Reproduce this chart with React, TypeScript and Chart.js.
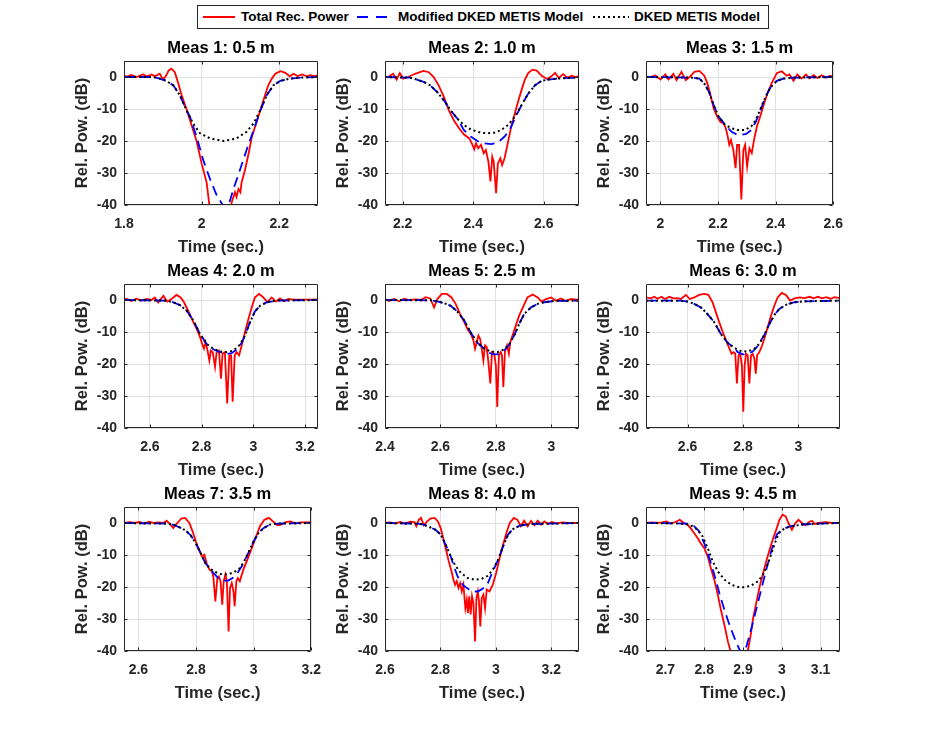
import { useEffect, useRef } from "react";
import { Chart, registerables } from "chart.js";

Chart.register(...registerables);

type Pt = [number, number];

const FONT = '"Liberation Sans", Arial, Helvetica, sans-serif';
const INK = "#262626";
const GRID = "#e1e1e1";

// ---- axes ----
const titles = [
  "Meas 1: 0.5 m", "Meas 2: 1.0 m", "Meas 3: 1.5 m",
  "Meas 4: 2.0 m", "Meas 5: 2.5 m", "Meas 6: 3.0 m",
  "Meas 7: 3.5 m", "Meas 8: 4.0 m", "Meas 9: 4.5 m",
];
const xMin = [1.8, 2.15, 1.95, 2.5, 2.4, 2.45, 2.55, 2.6, 2.65];
const xMax = [2.3, 2.7, 2.6, 3.25, 3.1, 3.15, 3.2, 3.3, 3.15];
const xTicks = [
  [1.8, 2, 2.2],
  [2.2, 2.4, 2.6],
  [2, 2.2, 2.4, 2.6],
  [2.6, 2.8, 3, 3.2],
  [2.4, 2.6, 2.8, 3],
  [2.6, 2.8, 3],
  [2.6, 2.8, 3, 3.2],
  [2.6, 2.8, 3, 3.2],
  [2.7, 2.8, 2.9, 3, 3.1],
];
const yTicks = [-40, -30, -20, -10, 0];
const yMin = -40;
const yMax = 5;

// ---- Meas 1 ----
const total1: Pt[] = [[1.8,0.3],[1.81,0.2],[1.819,0.6],[1.832,0],[1.84,0.4],[1.849,0.8],[1.859,0.2],[1.871,0.8],[1.878,0.3],[1.884,0.5],[1.892,1.0],[1.901,-0.8],[1.909,0.5],[1.915,2],[1.922,2.6],[1.931,1.5],[1.94,-2],[1.948,-5.5],[1.961,-10],[1.974,-15],[1.987,-20],[2.0,-27],[2.013,-33],[2.02,-40],[2.026,-46],[2.065,-46],[2.072,-42],[2.078,-39],[2.086,-36],[2.09,-37.5],[2.095,-35],[2.1,-36],[2.103,-33],[2.112,-29],[2.121,-24],[2.129,-19],[2.138,-15.5],[2.147,-12],[2.155,-9],[2.164,-5.5],[2.172,-2.5],[2.181,-0.5],[2.19,1.0],[2.203,1.8],[2.216,1.3],[2.227,0.2],[2.237,1.0],[2.247,0.3],[2.259,0.8],[2.272,0.2],[2.28,0.6],[2.29,0.3],[2.3,0.5]];
const mod1: Pt[] = [[1.8,0],[1.875,0],[1.892,-0.5],[1.909,-1.2],[1.927,-2.6],[1.944,-5.7],[1.961,-10.4],[1.97,-12.4],[1.987,-18.6],[2.004,-25.9],[2.022,-32],[2.039,-37],[2.056,-40.3],[2.062,-40.6],[2.069,-40.3],[2.082,-35],[2.099,-29],[2.116,-22.8],[2.134,-16.6],[2.151,-10.6],[2.168,-5.7],[2.185,-2.6],[2.203,-1.2],[2.228,-0.5],[2.254,-0.2],[2.3,0]];
const dked1: Pt[] = [[1.8,0],[1.875,0],[1.892,-0.5],[1.909,-1.2],[1.927,-2.6],[1.944,-5.7],[1.961,-10.4],[1.978,-14.5],[1.996,-17.6],[2.022,-19.2],[2.056,-20],[2.09,-19.2],[2.116,-17.1],[2.134,-14.5],[2.151,-10.4],[2.168,-5.7],[2.185,-2.6],[2.203,-1.2],[2.228,-0.5],[2.254,-0.2],[2.3,0]];

// ---- Meas 2 ----
const total2: Pt[] = [[2.15,0],[2.16,0.1],[2.173,1],[2.183,-0.8],[2.192,1.2],[2.202,-0.5],[2.216,0],[2.235,1],[2.259,1.9],[2.274,1.5],[2.288,0],[2.302,-2.6],[2.317,-6.2],[2.331,-10.4],[2.345,-13.5],[2.36,-16],[2.374,-18],[2.389,-19.2],[2.398,-21.2],[2.403,-22.6],[2.408,-20.7],[2.414,-22.3],[2.422,-21.2],[2.43,-23.8],[2.436,-22.8],[2.443,-26.4],[2.449,-32.6],[2.454,-24.9],[2.458,-26.4],[2.465,-36.3],[2.47,-27],[2.477,-25.4],[2.482,-27.5],[2.489,-25.4],[2.499,-20.2],[2.508,-15.5],[2.518,-11.4],[2.527,-7.8],[2.537,-4.1],[2.546,-1],[2.556,1.2],[2.568,2.3],[2.58,2.0],[2.595,0.3],[2.61,-0.6],[2.622,0.2],[2.632,1.3],[2.643,-0.3],[2.655,0.9],[2.667,-0.2],[2.68,0.4],[2.69,0],[2.7,0.3]];
const mod2: Pt[] = [[2.15,0],[2.221,-0.2],[2.24,-0.8],[2.259,-1.5],[2.278,-2.6],[2.298,-4.7],[2.317,-7.3],[2.336,-10.4],[2.355,-13],[2.374,-16.6],[2.393,-18.6],[2.412,-20],[2.432,-20.7],[2.451,-21],[2.47,-20.5],[2.489,-18.6],[2.503,-16.6],[2.518,-13],[2.537,-8.8],[2.556,-5.2],[2.575,-2.6],[2.594,-1.2],[2.613,-0.8],[2.65,-0.4],[2.7,-0.2]];
const dked2: Pt[] = [[2.15,0],[2.221,-0.2],[2.24,-0.8],[2.259,-1.5],[2.278,-2.6],[2.298,-4.7],[2.317,-7.3],[2.336,-10.4],[2.355,-13],[2.374,-15],[2.393,-16.4],[2.422,-17.4],[2.441,-17.6],[2.46,-17.4],[2.479,-16.6],[2.499,-15],[2.518,-12.4],[2.537,-8.8],[2.556,-5.2],[2.575,-2.6],[2.594,-1.2],[2.613,-0.8],[2.65,-0.4],[2.7,-0.2]];

// ---- Meas 3 ----
const total3: Pt[] = [[1.95,0],[1.97,0.1],[1.983,0.5],[2.0,-0.8],[2.017,0.8],[2.028,-0.8],[2.045,1],[2.056,-1],[2.073,1.6],[2.088,-1],[2.101,0],[2.118,1.6],[2.135,1.9],[2.152,0.5],[2.163,-2],[2.174,-5.7],[2.185,-9.8],[2.197,-12.4],[2.208,-14],[2.219,-14.5],[2.227,-16],[2.234,-18.7],[2.239,-21.2],[2.245,-19.7],[2.253,-22.8],[2.261,-28.5],[2.266,-21.2],[2.273,-21.2],[2.281,-38.3],[2.288,-22.8],[2.294,-21.2],[2.301,-28],[2.309,-22.3],[2.317,-23.8],[2.326,-19.2],[2.335,-15.5],[2.346,-12.4],[2.36,-8.3],[2.373,-4.7],[2.388,-1.6],[2.404,1.2],[2.421,1.8],[2.438,0.4],[2.448,0.8],[2.462,-1.2],[2.475,0.8],[2.49,-0.5],[2.505,0.8],[2.518,-0.4],[2.532,0.6],[2.545,-0.3],[2.56,0.5],[2.575,-0.2],[2.59,0.4],[2.6,0]];
const mod3: Pt[] = [[1.95,0],[2.112,-0.2],[2.135,-0.5],[2.152,-2],[2.169,-4.7],[2.185,-8.8],[2.202,-12.4],[2.215,-13.8],[2.23,-15.5],[2.247,-17.1],[2.264,-17.9],[2.281,-18.1],[2.298,-17.8],[2.315,-16.6],[2.331,-14],[2.348,-10.2],[2.365,-6.2],[2.382,-3.3],[2.404,-1.2],[2.427,-0.5],[2.46,-0.2],[2.6,0]];
const dked3: Pt[] = [[1.95,0],[2.112,-0.2],[2.135,-0.5],[2.152,-2],[2.169,-4.7],[2.185,-8.8],[2.202,-12.4],[2.225,-15],[2.247,-16],[2.27,-16.6],[2.292,-16.6],[2.315,-15.5],[2.331,-13.5],[2.348,-9.8],[2.365,-6.2],[2.382,-3.3],[2.404,-1.2],[2.427,-0.5],[2.46,-0.2],[2.6,0]];

// ---- Meas 4 ----
const total4: Pt[] = [[2.5,0.2],[2.51,0.3],[2.529,-0.3],[2.548,0.4],[2.568,-0.2],[2.587,0.3],[2.606,0],[2.619,0.8],[2.632,-0.8],[2.652,1.3],[2.667,-0.5],[2.684,0.3],[2.703,1.6],[2.719,0.8],[2.732,-0.7],[2.748,-3.3],[2.765,-6.4],[2.781,-9],[2.794,-11.6],[2.804,-14.2],[2.809,-15.2],[2.815,-13.2],[2.823,-15.8],[2.83,-18.9],[2.836,-15.8],[2.843,-16.3],[2.852,-20.9],[2.858,-16.3],[2.867,-15.8],[2.875,-24.6],[2.881,-16.8],[2.89,-16.3],[2.899,-32.3],[2.907,-17.3],[2.914,-17.3],[2.92,-31.8],[2.928,-17.3],[2.935,-16.3],[2.945,-17.3],[2.955,-14.2],[2.968,-10],[2.981,-5.9],[2.994,-2.3],[3.006,0.8],[3.022,1.9],[3.039,0.8],[3.054,-0.7],[3.071,0.8],[3.088,-0.5],[3.103,0.5],[3.119,-0.4],[3.135,0.3],[3.155,0.1],[3.181,0.1],[3.219,0.1],[3.25,0.2]];
const mod4: Pt[] = [[2.5,0],[2.665,-0.2],[2.69,-0.7],[2.716,-1.6],[2.742,-3.3],[2.768,-6.4],[2.794,-10.6],[2.819,-13.7],[2.845,-15.4],[2.871,-16.3],[2.897,-16.9],[2.916,-16.6],[2.935,-15.5],[2.955,-13.4],[2.968,-11.1],[2.987,-6.9],[3.006,-3.6],[3.026,-1.8],[3.052,-0.7],[3.09,-0.2],[3.25,0]];
const dked4: Pt[] = [[2.5,0],[2.665,-0.2],[2.69,-0.7],[2.716,-1.6],[2.742,-3.3],[2.768,-6.4],[2.794,-10.6],[2.819,-13.7],[2.845,-15.2],[2.871,-16.1],[2.897,-16.3],[2.923,-15.8],[2.948,-14],[2.968,-11.1],[2.987,-6.9],[3.006,-3.6],[3.026,-1.8],[3.052,-0.7],[3.09,-0.2],[3.25,0]];

// ---- Meas 5 ----
const total5: Pt[] = [[2.4,0.3],[2.414,-0.3],[2.433,0.3],[2.451,-0.4],[2.469,0.4],[2.487,0],[2.511,0.2],[2.529,0],[2.547,0.9],[2.563,0.5],[2.577,-2.3],[2.589,0.3],[2.605,1.9],[2.623,1.9],[2.64,0.8],[2.655,-1.2],[2.671,-4.4],[2.686,-6.9],[2.7,-9.5],[2.71,-10.6],[2.719,-12.6],[2.725,-15.2],[2.731,-13.2],[2.737,-11.1],[2.743,-12.1],[2.749,-15.2],[2.755,-18.9],[2.761,-14.2],[2.767,-14.7],[2.773,-19.4],[2.78,-26.1],[2.786,-16.3],[2.794,-16.8],[2.8,-20.4],[2.805,-33.4],[2.811,-17.3],[2.818,-16.3],[2.822,-17.3],[2.827,-27.2],[2.833,-15.8],[2.84,-14.2],[2.847,-16.8],[2.852,-13.2],[2.86,-11.1],[2.872,-8],[2.884,-4.9],[2.9,-1.8],[2.914,0.8],[2.933,1.7],[2.951,0.8],[2.965,-0.5],[2.981,0.3],[2.999,0.8],[3.017,-0.2],[3.035,0.5],[3.053,-0.3],[3.071,0.3],[3.089,0.1],[3.1,0.2]];
const mod5: Pt[] = [[2.4,0],[2.565,-0.1],[2.589,-0.4],[2.613,-1],[2.637,-1.8],[2.661,-3.6],[2.686,-6.4],[2.71,-10.3],[2.734,-13.4],[2.758,-15.2],[2.77,-16.3],[2.788,-16.9],[2.806,-17],[2.824,-16.3],[2.842,-14.7],[2.866,-11.1],[2.884,-7.5],[2.902,-4.4],[2.927,-2.3],[2.951,-1.2],[2.975,-0.7],[3.011,-0.3],[3.1,-0.2]];
const dked5: Pt[] = [[2.4,0],[2.565,-0.1],[2.589,-0.4],[2.613,-1],[2.637,-1.8],[2.661,-3.6],[2.686,-6.4],[2.71,-10.3],[2.734,-13.4],[2.758,-15.2],[2.782,-16.1],[2.806,-16.3],[2.83,-15.4],[2.848,-14],[2.866,-11.1],[2.884,-7.5],[2.902,-4.4],[2.927,-2.3],[2.951,-1.2],[2.975,-0.7],[3.011,-0.3],[3.1,-0.2]];

// ---- Meas 6 ----
const total6: Pt[] = [[2.45,0.8],[2.467,0.5],[2.48,1.0],[2.492,0.4],[2.506,1.0],[2.518,0.3],[2.534,1.0],[2.549,0.5],[2.564,0.6],[2.576,0.3],[2.594,1.6],[2.608,0.3],[2.624,0.8],[2.642,1.6],[2.66,1.9],[2.675,1.6],[2.69,-0.7],[2.702,-3.8],[2.714,-6.9],[2.727,-10],[2.739,-12.6],[2.751,-15.2],[2.759,-16.8],[2.766,-16.3],[2.772,-16.8],[2.778,-26.1],[2.784,-17.3],[2.79,-16.8],[2.796,-20.4],[2.801,-34.9],[2.806,-20.4],[2.811,-16.8],[2.817,-17.3],[2.823,-26.1],[2.829,-17.3],[2.835,-16.8],[2.841,-18.3],[2.846,-23],[2.851,-17.3],[2.859,-16.3],[2.867,-14.7],[2.877,-12.1],[2.889,-8.5],[2.901,-4.9],[2.913,-1.8],[2.925,0.8],[2.94,2.2],[2.955,1.6],[2.97,-0.2],[2.986,0.5],[3.004,0.8],[3.022,0.6],[3.04,1.0],[3.055,0.5],[3.07,1.0],[3.086,0.5],[3.1,0.9],[3.116,0.4],[3.13,0.9],[3.15,0.6]];
const mod6: Pt[] = [[2.45,-0.2],[2.576,-0.2],[2.6,-0.5],[2.624,-1.2],[2.648,-2.3],[2.672,-4.4],[2.696,-6.9],[2.72,-10.6],[2.745,-13.4],[2.769,-15],[2.781,-16.3],[2.799,-17],[2.817,-16.9],[2.835,-16.1],[2.853,-14.4],[2.877,-10.9],[2.895,-7.5],[2.913,-4.7],[2.931,-2.8],[2.955,-1.5],[2.986,-0.7],[3.022,-0.4],[3.15,-0.2]];
const dked6: Pt[] = [[2.45,-0.2],[2.576,-0.2],[2.6,-0.5],[2.624,-1.2],[2.648,-2.3],[2.672,-4.4],[2.696,-6.9],[2.72,-10.6],[2.745,-13.4],[2.769,-15],[2.794,-16],[2.817,-16.1],[2.841,-15.2],[2.859,-13.7],[2.877,-10.9],[2.895,-7.5],[2.913,-4.7],[2.931,-2.8],[2.955,-1.5],[2.986,-0.7],[3.022,-0.4],[3.15,-0.2]];

// ---- Meas 7 ----
const total7: Pt[] = [[2.55,0],[2.57,0.3],[2.587,0],[2.603,0.3],[2.62,-0.2],[2.637,0.4],[2.654,0],[2.67,0.2],[2.687,0],[2.698,0.7],[2.709,-0.3],[2.721,-1.6],[2.735,0],[2.749,1.4],[2.762,1.6],[2.777,0],[2.788,-2.6],[2.799,-5.7],[2.81,-8.3],[2.821,-10.4],[2.829,-9.9],[2.838,-13],[2.847,-14.6],[2.855,-15.1],[2.86,-16.7],[2.867,-24.5],[2.874,-17.2],[2.879,-16.7],[2.885,-18.2],[2.891,-25.5],[2.896,-18.2],[2.902,-16.1],[2.907,-18.2],[2.913,-33.9],[2.918,-20.3],[2.924,-18.8],[2.93,-21.4],[2.934,-26],[2.94,-18.2],[2.945,-17.2],[2.952,-18.2],[2.959,-16.1],[2.966,-14.1],[2.978,-11.5],[2.989,-8.9],[3.0,-6.3],[3.011,-3.6],[3.022,-1],[3.037,1],[3.053,1.6],[3.067,0.5],[3.082,-0.7],[3.095,-0.5],[3.112,0.3],[3.128,0.5],[3.145,-0.2],[3.162,0.2],[3.18,0.2],[3.2,0.3]];
const mod7: Pt[] = [[2.55,0],[2.704,-0.2],[2.726,-0.7],[2.749,-1.6],[2.765,-2.4],[2.782,-3.9],[2.799,-6.3],[2.816,-9.4],[2.832,-12.5],[2.849,-14.3],[2.86,-15.6],[2.877,-17.2],[2.894,-18],[2.911,-18],[2.927,-17.2],[2.944,-15.6],[2.961,-13.2],[2.983,-9.1],[3.0,-5.7],[3.017,-3.1],[3.034,-1.6],[3.056,-0.5],[3.084,-0.2],[3.2,0]];
const dked7: Pt[] = [[2.55,0],[2.704,-0.2],[2.726,-0.7],[2.749,-1.6],[2.765,-2.4],[2.782,-3.9],[2.799,-6.3],[2.816,-9.4],[2.832,-12.5],[2.849,-14.3],[2.866,-15.3],[2.883,-15.9],[2.899,-16.1],[2.916,-15.9],[2.933,-15.3],[2.95,-14.3],[2.966,-12.2],[2.983,-9.1],[3.0,-5.7],[3.017,-3.1],[3.034,-1.6],[3.056,-0.5],[3.084,-0.2],[3.2,0]];

// ---- Meas 8 ----
const total8: Pt[] = [[2.6,0],[2.618,0.2],[2.636,-0.2],[2.655,0.3],[2.673,-0.2],[2.691,0.4],[2.706,0.3],[2.713,-1],[2.722,1],[2.73,1.6],[2.74,-0.7],[2.752,0.5],[2.764,1.4],[2.779,1.6],[2.791,0.5],[2.801,-1.6],[2.81,-4.7],[2.82,-8.3],[2.83,-12],[2.84,-15.1],[2.847,-17.7],[2.853,-19.3],[2.859,-18.2],[2.865,-20.3],[2.871,-18.8],[2.877,-21.4],[2.883,-19.3],[2.89,-26.6],[2.895,-24],[2.899,-28.1],[2.904,-22.9],[2.909,-28.6],[2.914,-22.9],[2.919,-25],[2.925,-37],[2.93,-23.4],[2.935,-21.4],[2.939,-24.5],[2.944,-32.3],[2.949,-23.4],[2.955,-22.4],[2.961,-26.6],[2.967,-20.8],[2.977,-21.4],[2.989,-19.3],[3.001,-15.6],[3.014,-10.9],[3.026,-6.8],[3.038,-3.1],[3.05,0],[3.065,1.6],[3.078,1],[3.09,-1],[3.102,0.7],[3.115,-1],[3.127,0.7],[3.139,-0.7],[3.151,0.7],[3.163,-0.5],[3.175,0.5],[3.188,-0.3],[3.202,0.3],[3.22,-0.2],[3.239,0.2],[3.263,0],[3.3,0]];
const mod8: Pt[] = [[2.6,0],[2.716,-0.2],[2.74,-0.5],[2.764,-1.4],[2.782,-2.1],[2.801,-3.6],[2.819,-6.8],[2.837,-10.4],[2.848,-13.4],[2.862,-16.7],[2.88,-19.3],[2.898,-20.5],[2.916,-21.4],[2.935,-21.4],[2.953,-20.5],[2.971,-18.8],[2.989,-15.1],[3.008,-11.5],[3.026,-7.3],[3.044,-3.6],[3.062,-1.9],[3.087,-0.8],[3.129,-0.3],[3.3,0]];
const dked8: Pt[] = [[2.6,0],[2.716,-0.2],[2.74,-0.5],[2.764,-1.4],[2.782,-2.1],[2.801,-3.6],[2.819,-6.8],[2.837,-10.4],[2.855,-13.5],[2.874,-15.6],[2.898,-17.2],[2.922,-17.7],[2.947,-17.5],[2.971,-16.5],[2.989,-14.6],[3.008,-11.5],[3.026,-7.3],[3.044,-3.6],[3.062,-1.9],[3.087,-0.8],[3.129,-0.3],[3.3,0]];

// ---- Meas 9 ----
const total9: Pt[] = [[2.65,0],[2.665,0.2],[2.678,0],[2.691,0.2],[2.703,0.5],[2.713,-0.2],[2.726,0.3],[2.737,1],[2.748,0],[2.757,-0.5],[2.765,-1.6],[2.774,-3.1],[2.783,-4.7],[2.791,-6.3],[2.8,-7.8],[2.809,-10.4],[2.817,-14.1],[2.826,-17.7],[2.835,-22.4],[2.843,-27.1],[2.852,-31.8],[2.861,-37],[2.868,-40.1],[2.874,-46],[2.909,-46],[2.913,-39.6],[2.92,-34.9],[2.926,-29.7],[2.935,-24.5],[2.943,-19.8],[2.952,-15.6],[2.961,-11.5],[2.97,-7.8],[2.978,-4.7],[2.987,-1.6],[2.994,1],[3.002,2.6],[3.01,2.1],[3.017,0],[3.026,-2.1],[3.035,0],[3.043,1],[3.052,0],[3.061,-0.7],[3.07,0.3],[3.078,0.7],[3.085,-0.3],[3.096,0],[3.113,0.3],[3.13,0],[3.15,0]];
const mod9: Pt[] = [[2.65,0],[2.722,-0.1],[2.757,-0.2],[2.774,-1],[2.787,-2.6],[2.8,-6.3],[2.813,-10.9],[2.826,-16.1],[2.839,-21.9],[2.852,-27.1],[2.865,-31.8],[2.878,-35.9],[2.891,-39.6],[2.9,-40.6],[2.909,-38.5],[2.922,-32.8],[2.935,-26.6],[2.948,-20.3],[2.961,-14.1],[2.974,-8.3],[2.987,-3.6],[3.0,-2.1],[3.017,-1.2],[3.043,-0.5],[3.096,-0.2],[3.15,0]];
const dked9: Pt[] = [[2.65,0],[2.722,-0.1],[2.739,-0.2],[2.757,-0.5],[2.77,-1],[2.783,-2.1],[2.796,-4.2],[2.809,-7.8],[2.822,-12],[2.835,-15.1],[2.852,-17.7],[2.87,-19.3],[2.887,-20],[2.904,-20.1],[2.922,-19.5],[2.939,-18.2],[2.952,-16.1],[2.965,-12.5],[2.978,-7.8],[2.987,-4.7],[2.996,-2.6],[3.009,-1.6],[3.026,-1],[3.052,-0.5],[3.096,-0.2],[3.15,0]];

const totals = [total1, total2, total3, total4, total5, total6, total7, total8, total9];
const modified = [mod1, mod2, mod3, mod4, mod5, mod6, mod7, mod8, mod9];
const dkeds = [dked1, dked2, dked3, dked4, dked5, dked6, dked7, dked8, dked9];

// ---- layout (page pixels) ----
const colLeft = [124, 385, 646];
const rowTop = [61, 284, 507];
const BOX_W = 194;
const BOX_H = 144;
const Y_W = 55;
const X_H = 56;
const TOP_H = 28;
const RIGHT_PAD = 14;

const fmt = (v: number | string) => String(Math.round(Number(v) * 100) / 100);
const toXY = (pts: Pt[]) => pts.map(([x, y]) => ({ x, y }));

// MATLAB-like box with inward tick marks
const boxPlugin = {
  id: "matlabBox",
  afterDatasetsDraw(chart: Chart) {
    const { ctx, chartArea: a } = chart;
    const xs = chart.scales.x;
    const ys = chart.scales.y;
    const l = Math.round(a.left) + 0.5;
    const r = Math.round(a.right) - 0.5;
    const t = Math.round(a.top) + 0.5;
    const b = Math.round(a.bottom) - 0.5;
    ctx.save();
    ctx.strokeStyle = INK;
    ctx.lineWidth = 1;
    ctx.beginPath();
    ctx.rect(l, t, r - l, b - t);
    for (const tk of xs.ticks) {
      const px = Math.round(xs.getPixelForValue(tk.value)) + 0.5;
      ctx.moveTo(px, b);
      ctx.lineTo(px, b - 3);
      ctx.moveTo(px, t);
      ctx.lineTo(px, t + 3);
    }
    for (const tk of ys.ticks) {
      const py = Math.round(ys.getPixelForValue(tk.value)) + 0.5;
      ctx.moveTo(l, py);
      ctx.lineTo(l + 3, py);
      ctx.moveTo(r, py);
      ctx.lineTo(r - 3, py);
    }
    ctx.stroke();
    ctx.restore();
  },
};

function Panel({ i }: { i: number }) {
  const canvasRef = useRef<HTMLCanvasElement>(null);

  useEffect(() => {
    if (!canvasRef.current) return;
    const tickFont = { family: FONT, size: 14, weight: "bold" as const };
    const labelFont = { family: FONT, size: 16.5, weight: "bold" as const };
    const chart = new Chart(canvasRef.current, {
      type: "line",
      data: {
        datasets: [
          {
            label: "DKED METIS Model",
            data: toXY(dkeds[i]),
            borderColor: "#000000",
            borderWidth: 2,
            borderDash: [2, 3],
            pointRadius: 0,
          },
          {
            label: "Modified DKED METIS Model",
            data: toXY(modified[i]),
            borderColor: "#0000ff",
            borderWidth: 1.8,
            borderDash: [10, 6],
            pointRadius: 0,
          },
          {
            label: "Total Rec. Power",
            data: toXY(totals[i]),
            borderColor: "#ff0000",
            borderWidth: 1.8,
            pointRadius: 0,
          },
        ],
      },
      options: {
        animation: false,
        responsive: true,
        maintainAspectRatio: false,
        events: [],
        layout: { padding: { left: 0, right: RIGHT_PAD, top: 0, bottom: 0 } },
        plugins: {
          legend: { display: false },
          tooltip: { enabled: false },
          title: {
            display: true,
            text: titles[i],
            fullSize: false,
            color: "#000000",
            font: labelFont,
            padding: { top: 5.5, bottom: 2.7 },
          },
        },
        scales: {
          x: {
            type: "linear",
            min: xMin[i],
            max: xMax[i],
            afterBuildTicks: (s: any) => {
              s.ticks = xTicks[i].map((v) => ({ value: v }));
            },
            afterFit: (s: any) => {
              s.height = X_H;
            },
            grid: { color: GRID, drawTicks: false },
            border: { display: false },
            ticks: {
              autoSkip: false,
              maxRotation: 0,
              padding: 11,
              color: INK,
              font: tickFont,
              callback: (v: number | string) => fmt(v),
            },
            title: {
              display: true,
              text: "Time (sec.)",
              color: INK,
              font: labelFont,
              padding: { top: 0, bottom: 4 },
            },
          },
          y: {
            type: "linear",
            min: yMin,
            max: yMax,
            afterBuildTicks: (s: any) => {
              s.ticks = yTicks.map((v) => ({ value: v }));
            },
            afterFit: (s: any) => {
              s.width = Y_W;
            },
            grid: { color: GRID, drawTicks: false },
            border: { display: false },
            ticks: {
              autoSkip: false,
              padding: 7,
              color: INK,
              font: tickFont,
              callback: (v: number | string) => fmt(v),
            },
            title: {
              display: true,
              text: "Rel. Pow. (dB)",
              color: INK,
              font: labelFont,
              padding: { top: 4, bottom: 0 },
            },
          },
        },
      },
      plugins: [boxPlugin],
    });
    return () => chart.destroy();
  }, [i]);

  const col = i % 3;
  const row = Math.floor(i / 3);
  return (
    <div
      style={{
        position: "absolute",
        left: colLeft[col] - Y_W,
        top: rowTop[row] - TOP_H,
        width: Y_W + BOX_W + RIGHT_PAD,
        height: TOP_H + BOX_H + X_H,
      }}
    >
      <canvas ref={canvasRef} />
    </div>
  );
}

function LegendBox() {
  const text = { position: "absolute" as const, top: 0, lineHeight: "22px", whiteSpace: "nowrap" as const };
  return (
    <div
      style={{
        position: "absolute",
        left: 197,
        top: 5,
        width: 570,
        height: 22,
        border: `1px solid ${INK}`,
        background: "#fff",
        font: `bold 13.5px ${FONT}`,
        color: "#000",
      }}
    >
      <svg style={{ position: "absolute", left: 5, top: 9 }} width={32} height={4}>
        <line x1={0} y1={2} x2={32} y2={2} stroke="#ff0000" strokeWidth={2} />
      </svg>
      <span style={{ ...text, left: 43 }}>Total Rec. Power</span>
      <svg style={{ position: "absolute", left: 159, top: 9 }} width={31} height={4}>
        <line x1={0} y1={2} x2={31} y2={2} stroke="#0000ff" strokeWidth={2} strokeDasharray="11 8" />
      </svg>
      <span style={{ ...text, left: 200 }}>Modified DKED METIS Model</span>
      <svg style={{ position: "absolute", left: 395, top: 9 }} width={36} height={4}>
        <line x1={0} y1={2} x2={36} y2={2} stroke="#000000" strokeWidth={2} strokeDasharray="2 3" />
      </svg>
      <span style={{ ...text, left: 436 }}>DKED METIS Model</span>
    </div>
  );
}

export default function App() {
  return (
    <div
      style={{
        position: "absolute",
        left: 0,
        top: 0,
        width: 927,
        height: 742,
        background: "#ffffff",
        fontFamily: FONT,
      }}
    >
      <LegendBox />
      {titles.map((_, i) => (
        <Panel key={i} i={i} />
      ))}
    </div>
  );
}
